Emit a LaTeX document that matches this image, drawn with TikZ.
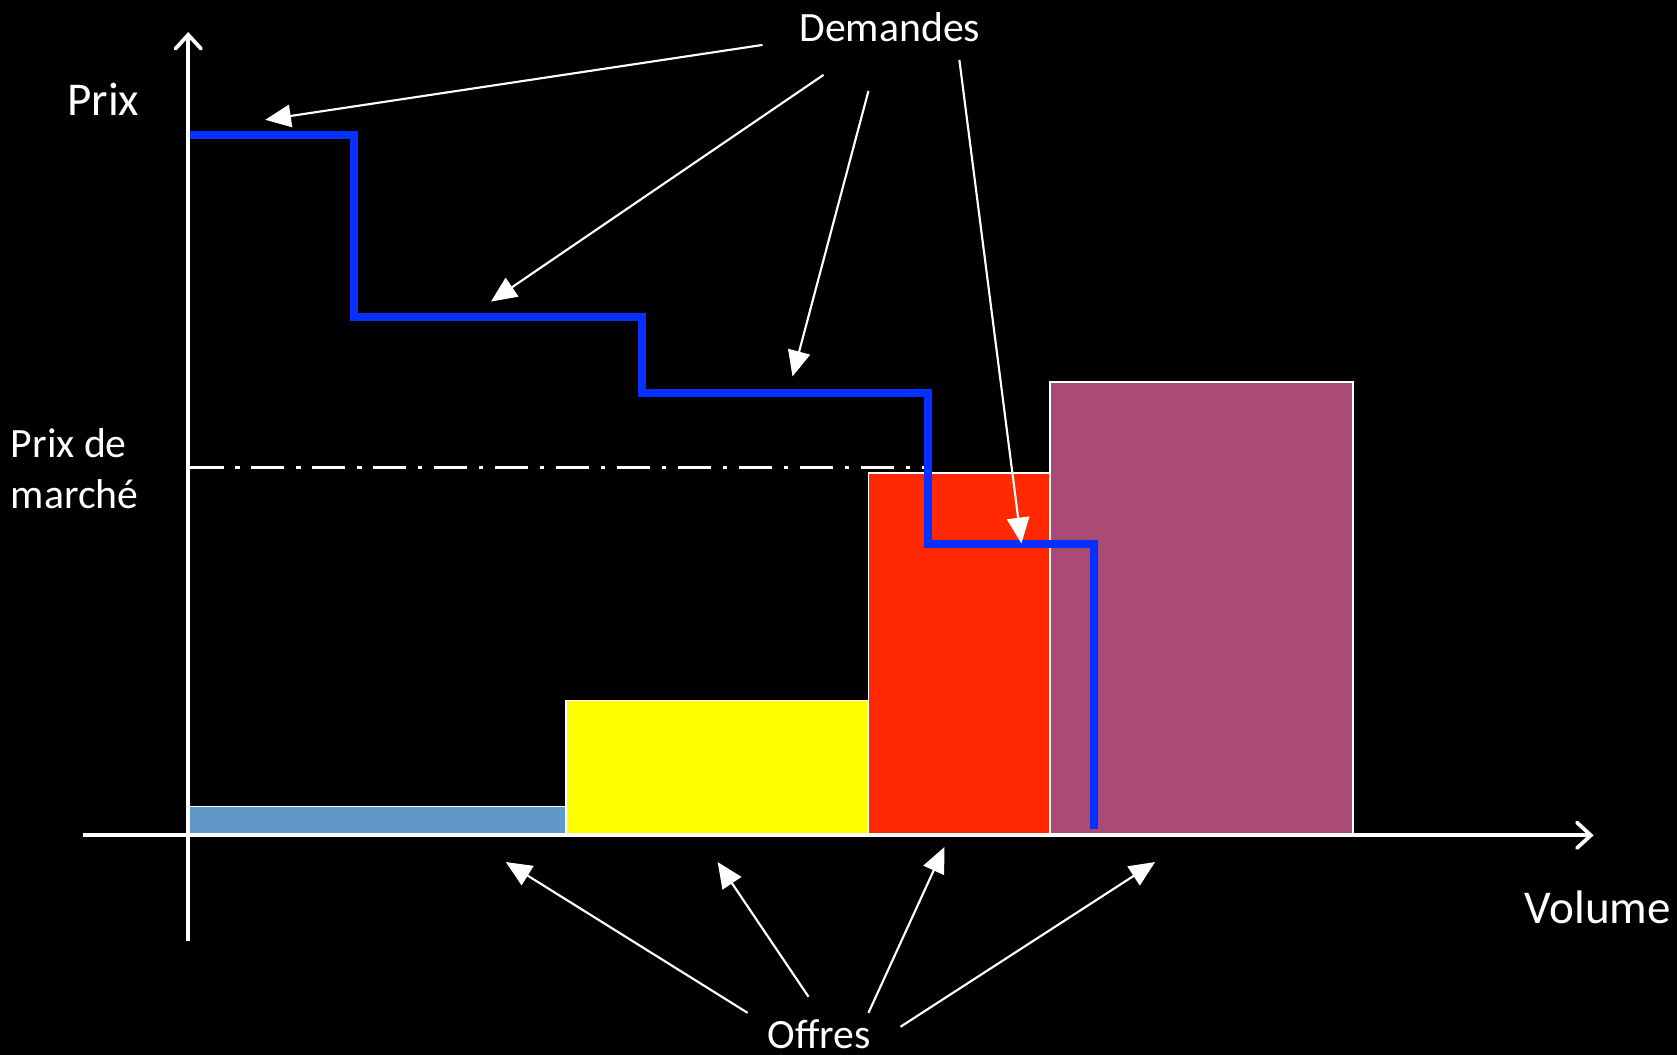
\documentclass[tikz,border=0pt]{standalone}
\usepackage{fontspec}
\setmainfont{Carlito}
\usetikzlibrary{arrows.meta}
\definecolor{lineblue}{RGB}{5,48,255}
\definecolor{offblue}{RGB}{98,151,201}
\definecolor{offyellow}{RGB}{255,255,0}
\definecolor{offred}{RGB}{255,40,0}
\definecolor{offpurple}{RGB}{170,74,119}
\begin{document}
\begin{tikzpicture}[x=1pt,y=-1pt,
  axis/.style={white,line width=3.5pt,-{Straight Barb[length=13pt,width=24pt,line cap=round]}},
  bar/.style={draw=white,line width=1.5pt},
  pointer/.style={white,line width=2pt,-{Triangle[length=24pt,width=21pt]}},
  biglabel/.style={white,font=\fontsize{44}{47}\selectfont,inner sep=0pt,anchor=base},
  smalllabel/.style={white,font=\fontsize{39}{42}\selectfont,inner sep=0pt,anchor=base},
  demand/.style={lineblue,line width=7.5pt,line join=miter},
  market/.style={white,line width=3.2pt,dash pattern=on 31pt off 11pt on 4pt off 11pt}]
\fill[black] (0,0) rectangle (1568,986);
\useasboundingbox (0,0) rectangle (1568,986);
% offers
\draw[bar,fill=offblue]   (176,754) rectangle (529,781);
\draw[bar,fill=offyellow] (529,655) rectangle (812,781);
\draw[bar,fill=offred]    (812,442) rectangle (982,781);
\draw[bar,fill=offpurple] (982,357) rectangle (1265,781);
% axes
\coordinate (ybot) at (176,880);
\coordinate (ytop) at (176,30);
\coordinate (xleft) at (78,781);
\coordinate (xright) at (1490,781);
\draw[axis] (ybot) -- (ytop);
\draw[axis] (xleft) -- (xright);
% market price
\coordinate (m1) at (178,437);
\coordinate (m2) at (868,437);
\draw[market] (m1) -- (m2);
% demand curve
\draw[demand] (178,126) -- (331,126) -- (331,296) -- (600,296) -- (600,367)
  -- (868,367) -- (868,509) -- (1023,509) -- (1023,775);
% labels
\node[biglabel] (prix) at (96.5,108) {Prix};
\node[smalllabel] (dem) at (832,38.5) {Demandes};
\node[smalllabel,anchor=base west] (pm1) at (10,428) {Prix de};
\node[smalllabel,anchor=base west] (pm2) at (10,475) {marché};
\node[biglabel] (vol) at (1494,863) {Volume};
\node[smalllabel] (off) at (766,980) {Offres};
% demand pointers
\coordinate (d1s) at (713,42);  \coordinate (d1t) at (248,112);
\coordinate (d2s) at (770,70);  \coordinate (d2t) at (459,282);
\coordinate (d3s) at (812,85);  \coordinate (d3t) at (741,352);
\coordinate (d4s) at (897,56);  \coordinate (d4t) at (955,508);
\draw[pointer] (d1s) -- (d1t);
\draw[pointer] (d2s) -- (d2t);
\draw[pointer] (d3s) -- (d3t);
\draw[pointer] (d4s) -- (d4t);
% offer pointers
\coordinate (o1s) at (699,947);  \coordinate (o1t) at (473,806);
\coordinate (o2s) at (756,932);  \coordinate (o2t) at (671,806);
\coordinate (o3s) at (812,947);  \coordinate (o3t) at (883,792);
\coordinate (o4s) at (842,960);  \coordinate (o4t) at (1080,806);
\draw[pointer] (o1s) -- (o1t);
\draw[pointer] (o2s) -- (o2t);
\draw[pointer] (o3s) -- (o3t);
\draw[pointer] (o4s) -- (o4t);
\end{tikzpicture}
\end{document}
